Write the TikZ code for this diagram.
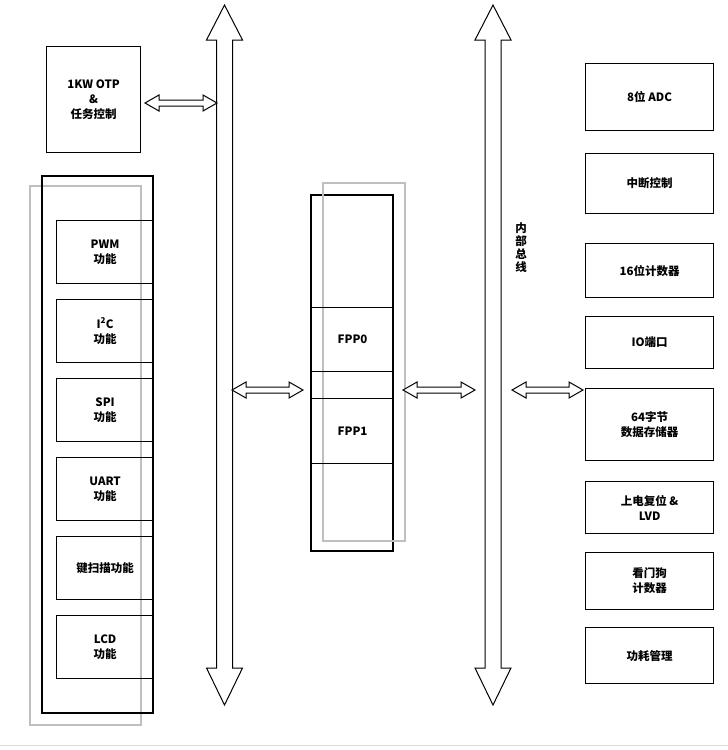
\documentclass[tikz,border=0pt]{standalone}
\usepackage{fontspec}
\setmainfont{Noto Sans CJK SC}
\usetikzlibrary{positioning}

% vertical bus arrow: centre x, top y, bottom y
\newcommand{\busarrow}[3]{%
  \draw[bus] (#1-8,#2+35) -- (#1-18,#2+35) -- (#1,#2) -- (#1+18,#2+35) -- (#1+8,#2+35)
    -- (#1+8,#3-37) -- (#1+18,#3-37) -- (#1,#3) -- (#1-18,#3-37) -- (#1-8,#3-37) -- cycle;}
% horizontal double arrow: left x, right x, y
\newcommand{\linkarrow}[3]{%
  \draw[link] (#1,#3) -- (#1+14,#3-8) -- (#1+14,#3-3) -- (#2-14,#3-3) -- (#2-14,#3-8)
    -- (#2,#3) -- (#2-14,#3+8) -- (#2-14,#3+3) -- (#1+14,#3+3) -- (#1+14,#3+8) -- cycle;}

\begin{document}
\begin{tikzpicture}[x=1pt,y=-1pt,
    blk/.style={draw, line width=1.2pt, align=center, font=\bfseries\fontsize{11.5}{15}\selectfont},
    shade/.style={draw=gray!50, line width=1.2pt},
    bus/.style={draw, line width=1pt, fill=white},
    link/.style={draw, line width=1pt, fill=white}]
    \useasboundingbox (0,0) rectangle (728,750);
    \draw[gray!30, line width=1pt] (0,745) -- (728,745);

    % left group
    \draw[shade] (30,186) rectangle (141,725);
    \draw[line width=1.2pt] (42,176) rectangle (153,713);
    \foreach \y/\t/\n in {220/{PWM\\功能}/pwm, 299/{I\textsuperscript{2}C\\功能}/iic,
        378/{SPI\\功能}/spi, 457/{UART\\功能}/uart, 536/{键扫描功能}/key, 615/{LCD\\功能}/lcd}
      \node[blk, minimum width=97pt, minimum height=63pt, anchor=north west] (\n) at (56,\y) {\t};

    \node[blk, minimum width=94pt, minimum height=106pt, anchor=north west] (otp) at (46,46) {1KW OTP\\\&\\任务控制};

    % middle FPP stack
    \draw[line width=1.2pt] (311,195) rectangle (393,551);
    \draw[shade] (323,183) rectangle (405,541);
    \node[blk, minimum width=82pt, minimum height=64pt, anchor=north west] (fpp0) at (311,307) {FPP0};
    \node[blk, minimum width=82pt, minimum height=65pt, anchor=north west] (fpp1) at (311,398) {FPP1};

    % buses
    \busarrow{224.5}{5}{705}
    \busarrow{493}{5}{705}
    \node[font=\bfseries\fontsize{11.5}{13}\selectfont, align=center] (bus) at (521,248) {内\\部\\总\\线};

    % right blocks
    \foreach \y/\h/\t/\n in {63/67/{8位 ADC}/adc, 153/60/{中断控制}/irq, 243/54/{16位计数器}/cnt,
        316/52/{IO端口}/io, 388/72/{64字节\\数据存储器}/ram, 481/52/{上电复位 \&\\LVD}/lvd,
        552/57/{看门狗\\计数器}/wdt, 627/56/{功耗管理}/pwr}
      \node[blk, minimum width=128pt, minimum height=\h pt, anchor=north west] (\n) at (585,\y) {\t};

    % links
    \linkarrow{145}{217}{103}
    \linkarrow{232}{303}{390}
    \linkarrow{403}{475}{390}
    \linkarrow{512}{583}{390}
\end{tikzpicture}
\end{document}
